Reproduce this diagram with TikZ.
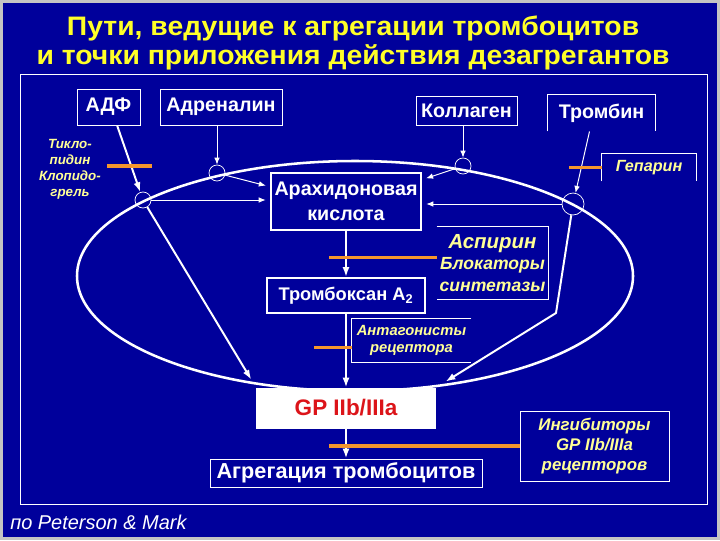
\documentclass[tikz,border=0pt]{standalone}
\usepackage{fontspec}
\usepackage{graphicx}
\setmainfont{Liberation Sans}
\usetikzlibrary{positioning,arrows.meta}

\definecolor{slideblue}{RGB}{0,0,155}
\definecolor{slidegray}{RGB}{196,196,196}
\definecolor{titleyellow}{RGB}{255,255,40}
\definecolor{noteyellow}{RGB}{255,255,150}
\definecolor{barorange}{RGB}{245,150,45}
\definecolor{gpred}{RGB}{220,20,25}

\begin{document}
\begin{tikzpicture}[x=0.025cm, y=-0.025cm,
  every node/.style={align=center, inner sep=0pt, text=white},
  box/.style={draw=white, line width=0.7pt, fill=slideblue, font=\bfseries\fontsize{14}{17.8}\selectfont},
  mainbox/.style={box, line width=1.5pt},
  note/.style={text=noteyellow, font=\bfseries\itshape\fontsize{12}{14.2}\selectfont},
  ring/.style={circle, draw=white, line width=0.5pt, minimum size=16*0.025cm},
  fat/.style={draw=white, line width=1.4pt, -{Latex[length=7pt,width=5pt]}},
  slim/.style={draw=white, line width=0.7pt, -{Latex[length=5pt,width=4pt]}},
  block/.style={draw=barorange, line width=2.2pt},
  frame/.style={draw=white, line width=0.7pt},
  wh/.style 2 args={minimum width=#1*0.025cm, minimum height=#2*0.025cm}]
% slide background
\fill[slidegray] (0,0) rectangle (720,540);
\fill[slideblue] (3,3) rectangle (717,537);
\useasboundingbox (0,0) rectangle (720,540);
\draw[frame] (20,74) rectangle (707,504);
\node (TITLE) at (353,43) [text=titleyellow, font=\bfseries\fontsize{19}{20.6}\selectfont]
  {\scalebox{1.06}[1]{Пути, ведущие к агрегации тромбоцитов}\\\scalebox{1.06}[1]{и точки приложения действия дезагрегантов}};
% platelet
\draw[white, line width=1.8pt] (355,276) ellipse [x radius=278, y radius=115];
% agonists
\node (ADP) [box, wh={63}{36}] at (108.5,107) {АДФ};
\node (ADR) [box, wh={122}{36}] at (221,107) {Адреналин};
\node (KOL) [box, wh={101}{29}] at (466.5,110.5) {Коллаген};
\node (TRB) [box, draw=none, wh={107}{36}] at (601.5,113) {Тромбин};
\node (cADP) [ring] at (143,200) {};
\node (cADR) [ring] at (217,173) {};
\node (cKOL) [ring] at (463,166) {};
\node (cTRB) [ring, minimum size=22*0.025cm] at (573,204) {};
\coordinate (TRBbend) at (556,313);
% pathway
\node (AA) [mainbox, wh={150}{57}] at (346,201.5) {Арахидоновая\\кислота};
\node (TXA) [mainbox, wh={158}{35}, font=\bfseries\fontsize{13}{15}\selectfont] at (346,295.5) {Тромбоксан A\textsubscript{2}};
\node (GP) [box, fill=white, wh={179}{40}, text=gpred, font=\bfseries\fontsize{16}{18}\selectfont] at (346,408) {GP IIb/IIIa};
\node (AGG) [box, wh={272}{28}, font=\bfseries\fontsize{15.4}{17}\selectfont] at (346,473) {Агрегация тромбоцитов};
% drugs
\node (TIK) [note, font=\bfseries\itshape\fontsize{9.5}{11.4}\selectfont] at (70,169) {Тикло-\\пидин\\Клопидо-\\грель};
\node (HEP) [note, wh={94}{27}, font=\bfseries\itshape\fontsize{11.5}{13}\selectfont] at (649,167.5) {Гепарин};
\node (ASP) [note, wh={111}{72}, font=\bfseries\itshape\fontsize{12.5}{15}\selectfont] at (492.5,263)
  {{\fontsize{14.5}{15}\selectfont Аспирин}\\Блокаторы\\синтетазы};
\node (ANT) [note, wh={119}{43}, font=\bfseries\itshape\fontsize{10.5}{11.6}\selectfont] at (411.5,340.5) {Антагонисты\\рецептора};
\node (INH) [note, draw=white, line width=0.7pt, wh={149}{70}] at (594.5,446) {Ингибиторы\\GP IIb/IIIa\\рецепторов};
\node (SRC) [anchor=west, font=\itshape\fontsize{14.2}{16}\selectfont] at (10,522) {по Peterson \& Mark};
% open frames
\draw[frame] (TRB.south west) -- (TRB.north west) -- (TRB.north east) -- (TRB.south east);
\draw[frame] (HEP.south west) -- (HEP.north west) -- (HEP.north east) -- (HEP.south east);
\draw[frame] (ASP.north west) -- (ASP.north east) -- (ASP.south east) -- (ASP.south west);
\draw[frame] (ANT.north east) -- (ANT.north west) -- (ANT.south west) -- (ANT.south east);
% arrows
\draw[fat] (ADP.-65) -- (cADP);
\draw[slim] (ADR.south -| cADR) -- (cADR);
\draw[slim] (KOL.south -| cKOL) -- (cKOL);
\draw[slim] (TRB.-123) -- (cTRB);
\draw[slim, shorten >=3pt] (cADR) -- (AA.169);
\draw[slim, shorten >=3pt] (cADP.east) -- (cADP.east -| AA.west);
\draw[slim, shorten >=3pt] (cKOL) -- (AA.16);
\draw[slim, shorten >=3pt] (cTRB.west) -- (cTRB.west -| AA.east);
\draw[fat, shorten >=6.5pt] (cADP) -- (GP.north west);
\draw[fat, shorten >=8pt] (cTRB) -- (TRBbend) -- (GP.north east);
\draw[fat] (AA) -- (TXA);
\draw[fat] (TXA) -- (GP);
\draw[fat] (GP) -- (AGG);
% blockers
\draw[block] (TIK.east) ++(6,-3) -- ++(45,0);
\draw[block] (HEP.west) -- ++(-33,0);
\draw[block] (ASP.174) -- ++(-108,0);
\draw[block] (ANT.187) -- ++(-38,0);
\draw[block] (INH.west) -- ++(-191,0);
\end{tikzpicture}
\end{document}
